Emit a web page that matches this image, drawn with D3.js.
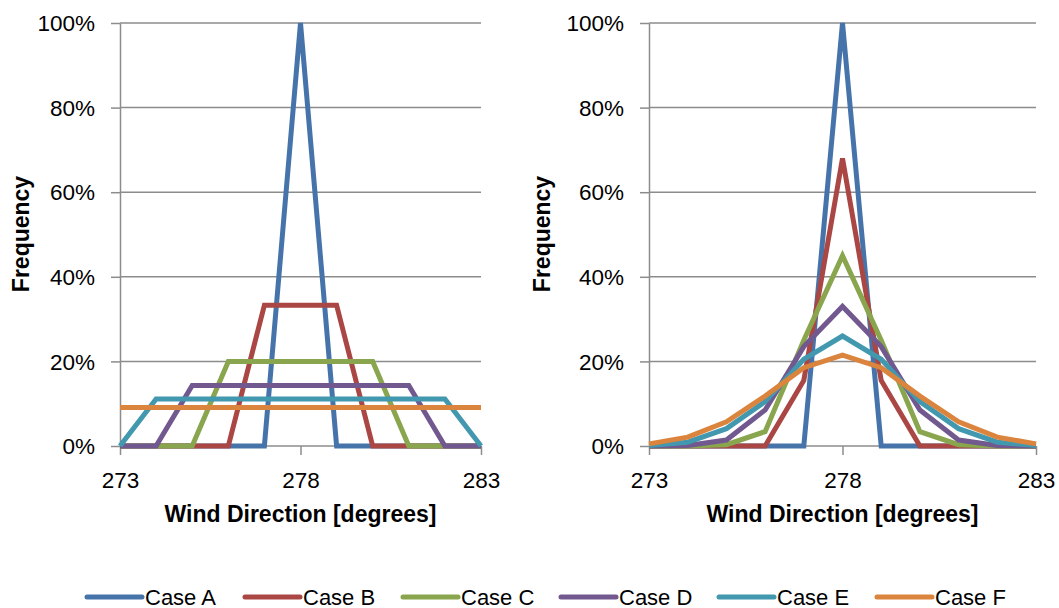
<!DOCTYPE html>
<html>
<head>
<meta charset="utf-8">
<script src="https://cdn.jsdelivr.net/npm/d3@7"></script>
<style>
  body { margin: 0; background: #fff; }
  svg { display: block; font-family: "Liberation Sans", Arial, sans-serif; }
  .tick text { font-size: 22.5px; fill: #000; }
</style>
</head>
<body>
<svg id="chart" width="1059" height="608"></svg>
<script>
// --- Data ---
const directions = [273, 274, 275, 276, 277, 278, 279, 280, 281, 282, 283];
const caseNames = ["Case A", "Case B", "Case C", "Case D", "Case E", "Case F"];
const caseColors = ["#4674AA", "#AA4643", "#89A54E", "#71588F", "#4198AF", "#DB843D"];

// left panel: uniform spreads
const leftA = [0, 0, 0, 0, 0, 1, 0, 0, 0, 0, 0];
const leftB = [0, 0, 0, 0, 0.333, 0.333, 0.333, 0, 0, 0, 0];
const leftC = [0, 0, 0, 0.2, 0.2, 0.2, 0.2, 0.2, 0, 0, 0];
const leftD = [0, 0, 0.143, 0.143, 0.143, 0.143, 0.143, 0.143, 0.143, 0, 0];
const leftE = [0, 0.111, 0.111, 0.111, 0.111, 0.111, 0.111, 0.111, 0.111, 0.111, 0];
const leftF = [0.0909, 0.0909, 0.0909, 0.0909, 0.0909, 0.0909, 0.0909, 0.0909, 0.0909, 0.0909, 0.0909];

// right panel: peaked spreads
const rightA = [0, 0, 0, 0, 0, 1, 0, 0, 0, 0, 0];
const rightB = [0, 0, 0, 0, 0.155, 0.68, 0.155, 0, 0, 0, 0];
const rightC = [0, 0, 0.003, 0.034, 0.25, 0.45, 0.25, 0.034, 0.003, 0, 0];
const rightD = [0, 0.001, 0.014, 0.085, 0.235, 0.33, 0.235, 0.085, 0.014, 0.001, 0];
const rightE = [0.001, 0.009, 0.041, 0.105, 0.205, 0.26, 0.205, 0.105, 0.041, 0.009, 0.001];
const rightF = [0.005, 0.021, 0.057, 0.118, 0.185, 0.215, 0.185, 0.118, 0.057, 0.021, 0.005];

const xTicks = [273, 278, 283];
const yTicks = [0, 0.2, 0.4, 0.6, 0.8, 1];

const svg = d3.select("#chart");
const gridColor = "#8c8c8c";

function drawPanel(x0, x1, labelX, series) {
  const x = d3.scaleLinear().domain([273, 283]).range([x0, x1]);
  const y = d3.scaleLinear().domain([0, 1]).range([446, 23]);
  const g = svg.append("g");

  // gridlines
  g.selectAll("line.grid")
    .data(yTicks)
    .join("line")
    .attr("class", "grid")
    .attr("x1", x0).attr("x2", x1)
    .attr("y1", d => y(d)).attr("y2", d => y(d))
    .attr("stroke", gridColor)
    .attr("stroke-width", 1.5);

  // y axis
  const ya = g.append("g")
    .attr("transform", `translate(${x0},0)`)
    .call(d3.axisLeft(y).tickValues(yTicks).tickFormat(d3.format(".0%"))
      .tickSize(9).tickSizeOuter(0).tickPadding(16));
  ya.select(".domain").attr("stroke", gridColor).attr("stroke-width", 1.5);
  ya.selectAll(".tick line").attr("stroke", gridColor).attr("stroke-width", 1.5);
  ya.selectAll(".tick text").attr("dy", "0.34em");

  // x axis
  const xa = g.append("g")
    .attr("transform", `translate(0,${y(0)})`)
    .call(d3.axisBottom(x).tickValues(xTicks).tickFormat(d3.format("d"))
      .tickSize(9).tickSizeOuter(0).tickPadding(17));
  xa.select(".domain").remove();
  xa.selectAll(".tick line").attr("stroke", gridColor).attr("stroke-width", 1.5);

  // titles
  svg.append("text")
    .attr("x", (x0 + x1) / 2)
    .attr("y", 522)
    .attr("text-anchor", "middle")
    .style("font-size", "23px")
    .style("font-weight", "bold")
    .text("Wind Direction [degrees]");
  svg.append("text")
    .attr("transform", `translate(${labelX},234) rotate(-90)`)
    .attr("text-anchor", "middle")
    .style("font-size", "23px")
    .style("font-weight", "bold")
    .text("Frequency");

  // lines
  const line = d3.line().x((d, i) => x(directions[i])).y(d => y(d));
  g.selectAll("path.series")
    .data(series)
    .join("path")
    .attr("class", "series")
    .attr("d", line)
    .attr("fill", "none")
    .attr("stroke", (d, i) => caseColors[i])
    .attr("stroke-width", 5);
}

drawPanel(120, 481, 29, [leftA, leftB, leftC, leftD, leftE, leftF]);
drawPanel(649, 1036, 550, [rightA, rightB, rightC, rightD, rightE, rightF]);

// legend
const legend = svg.append("g").attr("transform", "translate(87,597)");
const item = legend.selectAll("g")
  .data(caseNames)
  .join("g")
  .attr("transform", (d, i) => `translate(${i * 158},0)`);
item.append("line")
  .attr("x1", 0).attr("x2", 55)
  .attr("stroke", (d, i) => caseColors[i])
  .attr("stroke-width", 5)
  .attr("stroke-linecap", "round");
item.append("text")
  .attr("x", 58)
  .attr("y", 7.5)
  .style("font-size", "22px")
  .text(d => d);
</script>
</body>
</html>
